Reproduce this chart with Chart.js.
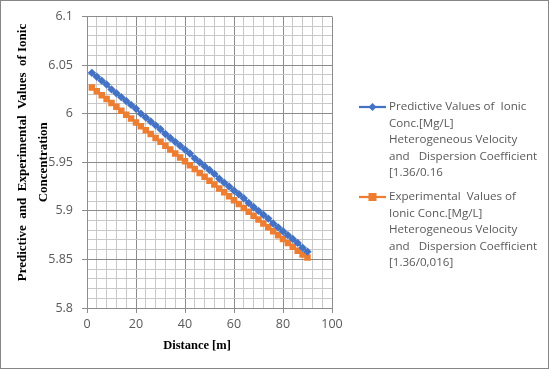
<!DOCTYPE html>
<html>
<head>
<meta charset="utf-8">
<script src="https://cdn.jsdelivr.net/npm/chart.js@4/dist/chart.umd.min.js"></script>
<style>
html,body{margin:0;padding:0;background:#fff;}
canvas{display:block;}
</style>
</head>
<body>
<canvas id="c" width="549" height="369"></canvas>
<script>
// Data
const distance = [2,4,6,8,10,12,14,16,18,20,22,24,26,28,30,32,34,36,38,40,42,44,46,48,50,52,54,56,58,60,62,64,66,68,70,72,74,76,78,80,82,84,86,88,90];
const predictive = [6.042,6.038,6.034,6.030,6.025,6.021,6.017,6.013,6.009,6.005,6.000,5.996,5.992,5.988,5.984,5.979,5.975,5.971,5.967,5.963,5.959,5.954,5.950,5.946,5.942,5.938,5.933,5.929,5.925,5.921,5.917,5.913,5.908,5.904,5.900,5.896,5.892,5.887,5.883,5.879,5.875,5.871,5.867,5.862,5.858];
const experimental = [6.027,6.023,6.019,6.015,6.011,6.007,6.003,5.999,5.995,5.991,5.987,5.983,5.979,5.975,5.971,5.967,5.963,5.959,5.955,5.951,5.947,5.943,5.939,5.935,5.931,5.927,5.923,5.919,5.915,5.911,5.907,5.903,5.899,5.895,5.891,5.887,5.883,5.879,5.875,5.871,5.867,5.863,5.859,5.855,5.852];
const predictiveLabel = ["Predictive Values of  Ionic","Conc.[Mg/L]","Heterogeneous Velocity","and   Dispersion Coefficient","[1.36/0.16"];
const experimentalLabel = ["Experimental  Values of","Ionic Conc.[Mg/L]","Heterogeneous Velocity","and   Dispersion Coefficient","[1.36/0,016]"];
const xTitle = "Distance [m]\u2002\u2002\u2002\u2002";
const yTitle = ["\u2002\u2002\u2002Predictive  and  Experimental  Values  of Ionic","Concentration"];

const BLUE = '#4472C4', ORANGE = '#ED7D31';
const isMajorX = v => Math.abs(v % 20) < 1e-6;
const isMajorY = v => Math.abs(Math.round(v * 20) - v * 20) < 1e-6;

const frameAndLegend = {
  id: 'frameAndLegend',
  beforeDraw(chart) {
    const ctx = chart.ctx;
    ctx.save();
    ctx.fillStyle = '#fff';
    ctx.fillRect(0, 0, chart.width, chart.height);
    ctx.restore();
  },
  afterDraw(chart) {
    const ctx = chart.ctx;
    ctx.save();
    ctx.strokeStyle = '#868686';
    ctx.lineWidth = 1;
    ctx.strokeRect(0.5, 0.5, chart.width - 1, chart.height - 1);
    // legend
    const items = [
      {ds: chart.data.datasets[0], y: 107, style: 'diamond'},
      {ds: chart.data.datasets[1], y: 197, style: 'square'}
    ];
    const x1 = 359, x2 = 386, tx = 389, lh = 16.5;
    ctx.font = '11.6px "Open Sans"';
    ctx.textBaseline = 'middle';
    ctx.textAlign = 'left';
    items.forEach(it => {
      const c = it.ds.borderColor;
      ctx.strokeStyle = c; ctx.lineWidth = 2.25;
      ctx.beginPath(); ctx.moveTo(x1, it.y); ctx.lineTo(x2, it.y); ctx.stroke();
      ctx.fillStyle = c;
      const mx = (x1 + x2) / 2;
      if (it.style === 'diamond') {
        ctx.beginPath();
        ctx.moveTo(mx, it.y - 4); ctx.lineTo(mx + 4, it.y); ctx.lineTo(mx, it.y + 4); ctx.lineTo(mx - 4, it.y);
        ctx.closePath(); ctx.fill();
      } else {
        ctx.fillRect(mx - 4, it.y - 4, 8, 8);
      }
      ctx.fillStyle = '#595959';
      it.ds.label.forEach((line, i) => ctx.fillText(line, tx, it.y + i * lh));
    });
    ctx.restore();
  }
};

new Chart(document.getElementById('c'), {
  type: 'line',
  data: {
    datasets: [
      {
        label: predictiveLabel,
        data: distance.map((d, i) => ({x: d, y: predictive[i]})),
        borderColor: BLUE, backgroundColor: BLUE,
        borderWidth: 2.25, pointStyle: 'rectRot', pointRadius: 4.2,
        pointBorderWidth: 0, tension: 0, order: 1
      },
      {
        label: experimentalLabel,
        data: distance.map((d, i) => ({x: d, y: experimental[i]})),
        borderColor: ORANGE, backgroundColor: ORANGE,
        borderWidth: 2.25, pointStyle: 'rect', pointRadius: 4.6,
        pointBorderWidth: 0, tension: 0, order: 2
      }
    ]
  },
  options: {
    responsive: false,
    animation: false,
    devicePixelRatio: 1,
    layout: {padding: {top: 15, right: 217, bottom: 0, left: 0}},
    plugins: {legend: {display: false}, tooltip: {enabled: false}},
    scales: {
      x: {
        type: 'linear', min: 0, max: 100,
        afterFit: s => { s.height = 61; },
        ticks: {
          stepSize: 4, autoSkip: false, maxRotation: 0, padding: 4,
          color: '#595959', font: {family: '"Open Sans"', size: 12.5},
          callback: v => isMajorX(v) ? String(v) : ''
        },
        grid: {
          color: c => isMajorX(c.tick.value) ? '#8c8c8c' : '#c8c8c8',
          tickColor: c => isMajorX(c.tick.value) ? '#8c8c8c' : 'rgba(0,0,0,0)',
          tickLength: 5, lineWidth: 1
        },
        border: {color: '#8c8c8c'},
        title: {display: true, text: xTitle, color: '#000',
          font: {family: '"Liberation Serif"', size: 12.5, weight: 'bold', lineHeight: 1.2},
          padding: {top: 0, bottom: 16}}
      },
      y: {
        type: 'linear', min: 5.8, max: 6.1,
        afterFit: s => { s.width = 87; },
        ticks: {
          stepSize: 0.01, autoSkip: false, padding: 9,
          color: '#595959', font: {family: '"Open Sans"', size: 12.5},
          callback: v => isMajorY(v) ? String(Math.round(v * 100) / 100) : ''
        },
        grid: {
          color: c => isMajorY(c.tick.value) ? '#8c8c8c' : '#c8c8c8',
          tickColor: c => isMajorY(c.tick.value) ? '#8c8c8c' : 'rgba(0,0,0,0)',
          tickLength: 5, lineWidth: 1
        },
        border: {color: '#8c8c8c'},
        title: {display: true, text: yTitle, color: '#000',
          font: {family: '"Liberation Serif"', size: 13, weight: 'bold', lineHeight: 1.55},
          padding: {top: 13, bottom: 0}}
      }
    }
  },
  plugins: [frameAndLegend]
});
</script>
</body>
</html>
